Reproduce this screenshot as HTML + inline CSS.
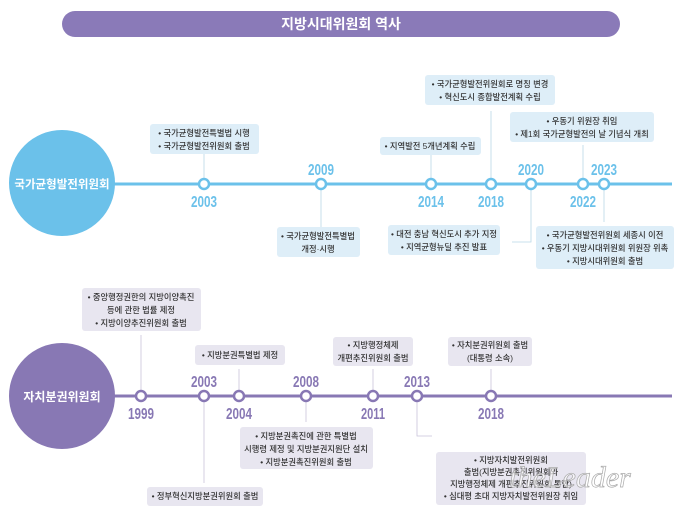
<!DOCTYPE html>
<html><head><meta charset="utf-8"><style>
html,body{margin:0;padding:0;background:#fff;width:680px;height:514px;overflow:hidden}
svg{display:block}
.t{font-family:"Liberation Sans","Noto Sans CJK KR",sans-serif;font-size:8.3px;fill:#333;text-anchor:middle;font-weight:500}
.yb{font-family:"Liberation Sans Narrow","Liberation Sans",sans-serif;font-weight:bold;font-size:16px;fill:#6bc1ea;text-anchor:middle}
.yp{font-family:"Liberation Sans Narrow","Liberation Sans",sans-serif;font-weight:bold;font-size:16px;fill:#8878b4;text-anchor:middle}
</style></head><body>
<svg width="680" height="514" viewBox="0 0 680 514" xmlns="http://www.w3.org/2000/svg">
<rect x="62" y="11" width="558" height="26" rx="13" fill="#8a7ab8"/>
<text x="341" y="29" font-family="Liberation Sans,'Noto Sans CJK KR',sans-serif" font-weight="bold" font-size="14" fill="#fff" text-anchor="middle">지방시대위원회 역사</text>

<g stroke="#b9d7e6" stroke-width="0.8" fill="none">
<line x1="204" y1="154" x2="204" y2="178"/>
<line x1="321" y1="190" x2="321" y2="227"/>
<line x1="431" y1="154" x2="431" y2="178"/>
<line x1="491" y1="111" x2="491" y2="178"/>
<polyline points="531,190 531,242 512,242"/>
<line x1="583" y1="145" x2="583" y2="178"/>
<line x1="604" y1="190" x2="604" y2="222"/>
</g>
<line x1="110" y1="184" x2="672" y2="184" stroke="#6bc1ea" stroke-width="3"/>
<circle cx="62" cy="183" r="53" fill="#6bc1ea"/>
<text x="62" y="188" font-family="Liberation Sans,'Noto Sans CJK KR',sans-serif" font-weight="bold" font-size="11.5" fill="#fff" text-anchor="middle">국가균형발전위원회</text>
<g fill="#fff" stroke="#6bc1ea" stroke-width="2.5">
<circle cx="204" cy="184" r="5"/><circle cx="321" cy="184" r="5"/><circle cx="431" cy="184" r="5"/><circle cx="491" cy="184" r="5"/><circle cx="531" cy="184" r="5"/><circle cx="583" cy="184" r="5"/><circle cx="604" cy="184" r="5"/>
</g>
<text class="yb" x="204" y="207" textLength="26" lengthAdjust="spacingAndGlyphs">2003</text>
<text class="yb" x="321" y="175" textLength="26" lengthAdjust="spacingAndGlyphs">2009</text>
<text class="yb" x="431" y="207" textLength="26" lengthAdjust="spacingAndGlyphs">2014</text>
<text class="yb" x="491" y="207" textLength="26" lengthAdjust="spacingAndGlyphs">2018</text>
<text class="yb" x="531" y="175" textLength="26" lengthAdjust="spacingAndGlyphs">2020</text>
<text class="yb" x="583" y="207" textLength="26" lengthAdjust="spacingAndGlyphs">2022</text>
<text class="yb" x="604" y="175" textLength="26" lengthAdjust="spacingAndGlyphs">2023</text>
<g fill="#deeef8">
<rect x="150" y="124" width="109" height="30" rx="3"/>
<rect x="277" y="227" width="83" height="30" rx="3"/>
<rect x="380" y="137" width="101" height="18" rx="3"/>
<rect x="425" y="75" width="130" height="30" rx="3"/>
<rect x="510" y="112" width="144" height="30" rx="3"/>
<rect x="388" y="225" width="112" height="30" rx="3"/>
<rect x="536" y="226" width="138" height="43" rx="3"/>
</g>
<text class="t" x="204" y="136">• 국가균형발전특별법 시행</text>
<text class="t" x="204" y="149">• 국가균형발전위원회 출범</text>
<text class="t" x="318" y="239">• 국가균형발전특별법</text>
<text class="t" x="318" y="252">개정·시행</text>
<text class="t" x="430" y="149">• 지역발전 5개년계획 수립</text>
<text class="t" x="490" y="87">• 국가균형발전위원회로 명칭 변경</text>
<text class="t" x="490" y="100">• 혁신도시 종합발전계획 수립</text>
<text class="t" x="582" y="124">• 우동기 위원장 취임</text>
<text class="t" x="582" y="137">• 제1회 국가균형발전의 날 기념식 개최</text>
<text class="t" x="444" y="237">• 대전 충남 혁신도시 추가 지정</text>
<text class="t" x="444" y="250">• 지역균형뉴딜 추진 발표</text>
<text class="t" x="605" y="238">• 국가균형발전위원회 세종시 이전</text>
<text class="t" x="605" y="251">• 우동기 지방시대위원회 위원장 위촉</text>
<text class="t" x="605" y="264">• 지방시대위원회 출범</text>

<g stroke="#c9c3da" stroke-width="0.8" fill="none">
<line x1="141" y1="335" x2="141" y2="390"/>
<line x1="204" y1="402" x2="204" y2="483"/>
<line x1="239" y1="369" x2="239" y2="390"/>
<line x1="306" y1="402" x2="306" y2="422"/>
<line x1="373" y1="369" x2="373" y2="390"/>
<polyline points="417,402 417,436 432,436"/>
<line x1="491" y1="369" x2="491" y2="390"/>
</g>
<line x1="110" y1="396" x2="672" y2="396" stroke="#8878b4" stroke-width="3"/>
<circle cx="62" cy="396" r="53" fill="#8878b4"/>
<text x="62" y="401" font-family="Liberation Sans,'Noto Sans CJK KR',sans-serif" font-weight="bold" font-size="12" fill="#fff" text-anchor="middle">자치분권위원회</text>
<g fill="#fff" stroke="#8878b4" stroke-width="2.5">
<circle cx="141" cy="396" r="5"/><circle cx="204" cy="396" r="5"/><circle cx="239" cy="396" r="5"/><circle cx="306" cy="396" r="5"/><circle cx="373" cy="396" r="5"/><circle cx="417" cy="396" r="5"/><circle cx="491" cy="396" r="5"/>
</g>
<text class="yp" x="141" y="419" textLength="26" lengthAdjust="spacingAndGlyphs">1999</text>
<text class="yp" x="204" y="387" textLength="26" lengthAdjust="spacingAndGlyphs">2003</text>
<text class="yp" x="239" y="419" textLength="26" lengthAdjust="spacingAndGlyphs">2004</text>
<text class="yp" x="306" y="387" textLength="26" lengthAdjust="spacingAndGlyphs">2008</text>
<text class="yp" x="373" y="419" textLength="24" lengthAdjust="spacingAndGlyphs">2011</text>
<text class="yp" x="417" y="387" textLength="26" lengthAdjust="spacingAndGlyphs">2013</text>
<text class="yp" x="491" y="419" textLength="26" lengthAdjust="spacingAndGlyphs">2018</text>
<g fill="#e8e6f0">
<rect x="82" y="288" width="119" height="43" rx="3"/>
<rect x="195" y="345" width="90" height="20" rx="3"/>
<rect x="240" y="427" width="133" height="42" rx="3"/>
<rect x="147" y="487" width="116" height="19" rx="3"/>
<rect x="333" y="337" width="80" height="29" rx="3"/>
<rect x="448" y="337" width="84" height="29" rx="3"/>
<rect x="436" y="452" width="150" height="53" rx="3"/>
</g>
<text class="t" x="141" y="300">• 중앙행정권한의 지방이양촉진</text>
<text class="t" x="141" y="313">등에 관한 법률 제정</text>
<text class="t" x="141" y="326">• 지방이양추진위원회 출범</text>
<text class="t" x="240" y="358">• 지방분권특별법 제정</text>
<text class="t" x="306" y="439">• 지방분권촉진에 관한 특별법</text>
<text class="t" x="306" y="452">시행령 제정 및 지방분권지원단 설치</text>
<text class="t" x="306" y="465">• 지방분권촉진위원회 출범</text>
<text class="t" x="205" y="499">• 정부혁신지방분권위원회 출범</text>
<text class="t" x="373" y="348">• 지방행정체제</text>
<text class="t" x="373" y="361">개편추진위원회 출범</text>
<text class="t" x="490" y="348">• 자치분권위원회 출범</text>
<text class="t" x="490" y="361">(대통령 소속)</text>
<text class="t" x="511" y="463">• 지방자치발전위원회</text>
<text class="t" x="511" y="475">출범(지방분권촉진위원회와</text>
<text class="t" x="511" y="487">지방행정체제 개편추진위원회 통합)</text>
<text class="t" x="511" y="499">• 심대평 초대 지방자치발전위원장 취임</text>
<text x="570" y="487" font-family="Liberation Serif,serif" font-style="italic" font-size="30" fill="#ffffff" fill-opacity="0.6" stroke="#aaa" stroke-width="0.7" text-anchor="middle">theLeader</text>
</svg>
</body></html>
